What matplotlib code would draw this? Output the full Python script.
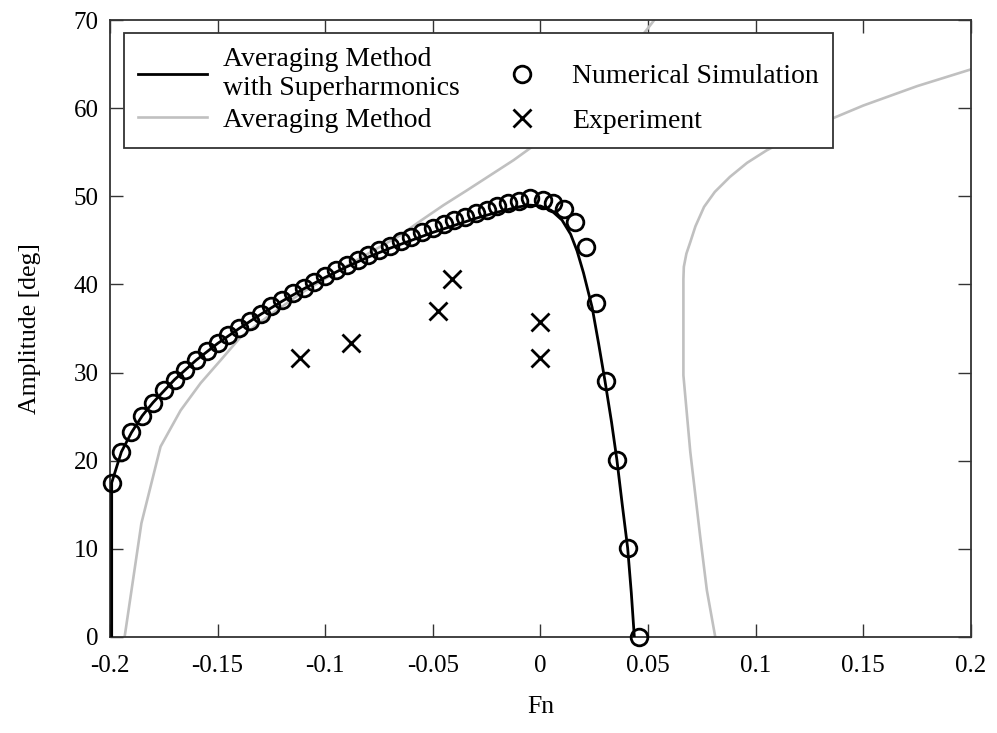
import matplotlib
matplotlib.use("Agg")
import matplotlib.pyplot as plt

plt.rcParams["font.family"] = ["Liberation Serif", "DejaVu Serif"]
plt.rcParams["axes.unicode_minus"] = False

# numerical simulation (circles)
FN_SIM = [-0.1992, -0.1947, -0.190, -0.185, -0.180, -0.175, -0.170, -0.165, -0.160, -0.155,
          -0.150, -0.145, -0.140, -0.135, -0.130, -0.125, -0.120, -0.115, -0.110, -0.105,
          -0.100, -0.095, -0.090, -0.085, -0.080, -0.075, -0.070, -0.065, -0.060, -0.055,
          -0.050, -0.045, -0.040, -0.035, -0.030, -0.025, -0.020, -0.015, -0.010, -0.005,
          0.0010, 0.0060, 0.0107, 0.0160, 0.0212, 0.0260, 0.0304, 0.0355, 0.0406, 0.0457]
AMP_SIM = [17.5, 21.0, 23.2, 25.1, 26.6, 28.0, 29.2, 30.3, 31.4, 32.4,
           33.3, 34.3, 35.0, 35.8, 36.7, 37.5, 38.2, 39.0, 39.6, 40.3,
           40.9, 41.6, 42.2, 42.8, 43.3, 43.9, 44.4, 44.9, 45.4, 45.9,
           46.4, 46.8, 47.3, 47.7, 48.1, 48.5, 48.9, 49.2, 49.5, 49.8,
           49.6, 49.2, 48.6, 47.1, 44.2, 37.9, 29.0, 20.1, 10.1, 0.0]

# experiment (crosses)
FN_EXP = [-0.1115, -0.0880, -0.0476, -0.0411, -0.0004, -0.0004]
AMP_EXP = [31.6, 33.4, 37.0, 40.6, 35.7, 31.7]

# averaging method with superharmonics
FN_SUPER = [-0.1992, -0.1992, -0.1947, -0.190, -0.185, -0.180, -0.170, -0.160, -0.150, -0.140,
            -0.130, -0.120, -0.110, -0.100, -0.090, -0.080, -0.070, -0.060, -0.050, -0.040,
            -0.030, -0.020, -0.010, -0.005, 0.000, 0.005, 0.010, 0.014, 0.017, 0.020,
            0.024, 0.027, 0.030, 0.033, 0.0355, 0.038, 0.0405, 0.0422, 0.0436]
AMP_SUPER = [0.0, 17.5, 21.0, 23.2, 25.1, 26.6, 29.2, 31.4, 33.3, 35.0,
             36.6, 38.1, 39.5, 40.8, 42.0, 43.1, 44.1, 45.0, 45.9, 46.7,
             47.5, 48.2, 48.8, 49.0, 48.9, 48.4, 47.3, 45.7, 43.8, 41.3,
             37.4, 33.3, 29.0, 24.4, 20.1, 15.0, 10.1, 5.0, 0.0]

# plain averaging method, two branches
FN_AVG_L = [-0.1932, -0.1854, -0.1765, -0.1672, -0.1579, -0.1486, -0.1394, -0.127, -0.110, -0.090,
            -0.075, -0.065, -0.0558, -0.045, -0.034, -0.0125, 0.000, 0.020, 0.035, 0.0494, 0.056]
AMP_AVG_L = [0.0, 12.9, 21.6, 25.7, 28.8, 31.4, 34.0, 36.3, 39.2, 42.1,
             44.2, 45.6, 47.2, 49.0, 50.7, 54.1, 56.3, 60.5, 64.6, 68.9, 71.0]
FN_AVG_R = [0.0812, 0.0773, 0.0742, 0.0696, 0.0664, 0.0664, 0.0666, 0.0678, 0.0696, 0.0720,
            0.0760, 0.0810, 0.0880, 0.0960, 0.1050, 0.1180, 0.1314, 0.150, 0.175, 0.200]
AMP_AVG_R = [0.0, 5.3, 11.4, 21.0, 29.7, 40.6, 42.0, 43.5, 44.8, 46.6,
             48.8, 50.5, 52.2, 53.8, 55.2, 56.9, 58.4, 60.3, 62.5, 64.4]

XTICKS = [-0.2, -0.15, -0.1, -0.05, 0.0, 0.05, 0.1, 0.15, 0.2]
XTICK_LABELS = ["-0.2", "-0.15", "-0.1", "-0.05", "0", "0.05", "0.1", "0.15", "0.2"]
YTICKS = [0, 10, 20, 30, 40, 50, 60, 70]

GRAY = "#c0c0c0"
SPINE = "#333333"

fig = plt.figure(figsize=(9.97, 7.33), dpi=100)
ax = fig.add_axes([0.1103, 0.131, 0.8636, 0.8417])

ax.plot(FN_AVG_L, AMP_AVG_L, color=GRAY, lw=1.9, zorder=2, label="Averaging Method")
ax.plot(FN_AVG_R, AMP_AVG_R, color=GRAY, lw=1.9, zorder=2)
ax.plot(FN_SUPER, AMP_SUPER, color="black", lw=2.0, zorder=3,
        label="Averaging Method\nwith Superharmonics")
ax.plot(FN_SIM, AMP_SIM, ls="none", marker="o", ms=12, mew=2.0, mfc="none",
        mec="black", zorder=4, clip_on=False, label="Numerical Simulation")
ax.plot(FN_EXP, AMP_EXP, ls="none", marker="x", ms=13, mew=2.0, color="black",
        zorder=4, label="Experiment")

ax.set_xlim(-0.2, 0.2)
ax.set_ylim(0, 70)
ax.set_xticks(XTICKS)
ax.set_xticklabels(XTICK_LABELS)
ax.set_yticks(YTICKS)

for spine in ax.spines.values():
    spine.set_color(SPINE)
    spine.set_linewidth(1.3)
ax.tick_params(direction="in", length=9.5, width=1.0, color=SPINE,
               top=True, right=True, labelsize=18)
ax.tick_params(axis="x", pad=13)
ax.tick_params(axis="y", pad=8)

ax.set_xlabel("Fn", fontsize=18.5, labelpad=14)
ax.set_ylabel("Amplitude [deg]", fontsize=18.5, labelpad=24)

handles, labels = ax.get_legend_handles_labels()
order = [1, 0, 2, 3]
leg = ax.legend([handles[i] for i in order], [labels[i] for i in order],
                ncol=2, loc="upper left", bbox_to_anchor=(0.0163, 0.979),
                borderaxespad=0, fontsize=20, handlelength=2.5, handletextpad=0.55,
                columnspacing=1.0, labelspacing=0.24, borderpad=0.5,
                fancybox=False, framealpha=1, edgecolor=SPINE)
leg.get_frame().set_linewidth(1.3)
# second column holds single-line entries; spread them to line up with the first
leg._legend_handle_box.get_children()[1].sep += 9

fig.savefig("out.png", dpi=100)
